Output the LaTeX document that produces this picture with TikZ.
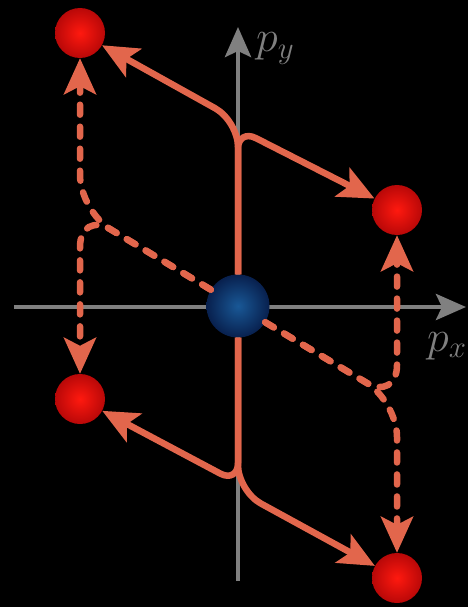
\RequirePackage{fix-cm}
\documentclass[tikz,border=0pt]{standalone}
\usepackage{tikz}
\usetikzlibrary{positioning, arrows.meta, calc}
\definecolor{coral}{RGB}{226,102,76}
\definecolor{axisgray}{RGB}{128,128,128}

\begin{document}
\begin{tikzpicture}[
    x=1pt, y=-1pt,
    axis/.style={draw=axisgray, line width=4.5pt, -{Stealth[length=30pt,width=26pt,inset=6pt]}},
    flow/.style={draw=coral, line width=6.5pt, -{Stealth[length=36pt,width=32pt,inset=8pt]}},
    kick/.style={flow, line cap=round, dash pattern=on 10pt off 12pt},
    electron/.style={circle, minimum size=50pt, inner sep=0pt, inner color={rgb,255:red,255;green,25;blue,15}, outer color={rgb,255:red,185;green,8;blue,8}},
    ion/.style={circle, minimum size=63pt, inner sep=0pt, inner color={rgb,255:red,25;green,88;blue,150}, outer color={rgb,255:red,8;green,32;blue,78}},
    axis label/.style={text=axisgray, inner sep=0pt, font=\fontsize{44}{50}\selectfont}
]
    \path[use as bounding box, fill=black] (0,0) rectangle (468,607);

    % momentum axes
    \coordinate (xs) at (14,307);
    \coordinate (xe) at (466,307);
    \coordinate (ys) at (238,581);
    \coordinate (ye) at (238,27);
    \draw[axis] (xs) -- (xe);
    \draw[axis] (ys) -- (ye);
    \node[axis label, anchor=base west] (py) at (256,52) {$p_y$};
    \node[axis label, anchor=base west] (px) at (427,351) {$p_x$};

    \node[ion] (ion) at (238,306) {};
    \node[electron] (tl) at (80,33) {};
    \node[electron] (tr) at (397,210) {};
    \node[electron] (bl) at (80,399) {};
    \node[electron] (br) at (397,578) {};

    % bends
    \coordinate (kul) at (238,121);
    \coordinate (kur) at (238,129);
    \coordinate (kdl) at (238,483);
    \coordinate (kdr) at (238,491);
    \coordinate (jl) at (80,211);
    \coordinate (jr) at (397,401);

    \draw[flow, rounded corners=26pt] (ion) -- (kul) -- (tl);
    \draw[flow, rounded corners=20pt] (ion) -- (kur) -- (tr);
    \draw[flow, rounded corners=20pt] (ion) -- (kdl) -- (bl);
    \draw[flow, rounded corners=26pt] (ion) -- (kdr) -- (br);

    \draw[kick, rounded corners=36pt] (ion) -- (jl) -- (tl);
    \draw[kick, rounded corners=36pt] (ion) -- (jl) -- (bl);
    \draw[kick, rounded corners=36pt] (ion) -- (jr) -- (tr);
    \draw[kick, rounded corners=36pt] (ion) -- (jr) -- (br);
\end{tikzpicture}
\end{document}
